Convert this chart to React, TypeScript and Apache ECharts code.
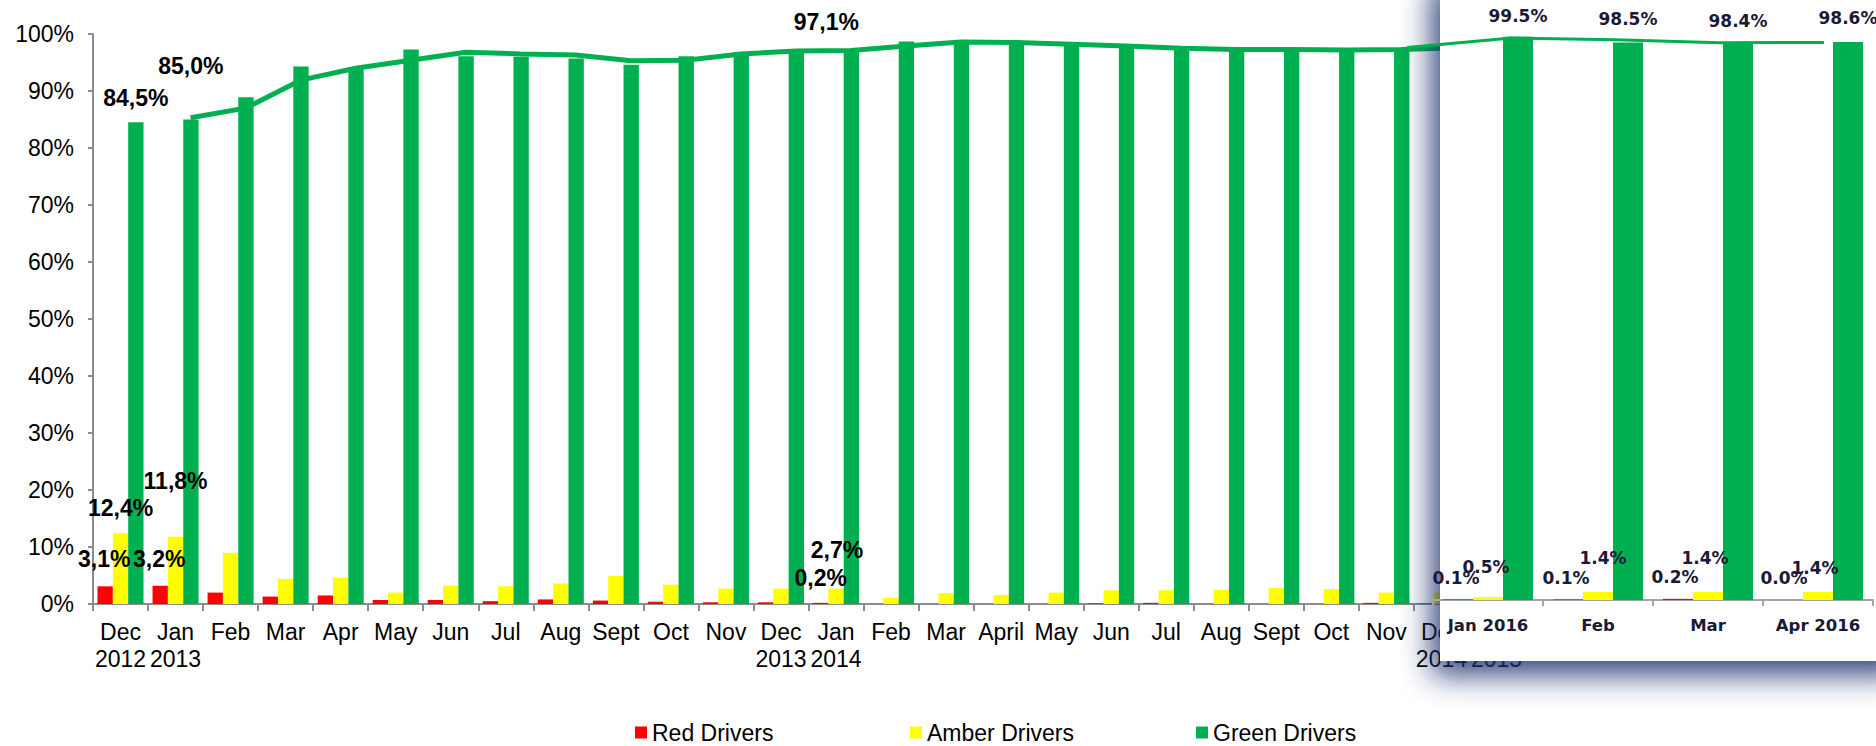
import React, { useEffect, useRef } from "react";
import * as echarts from "echarts";

// ---------- Main chart data (Dec 2012 – Jan 2015) ----------
const mainCategories = [
  "Dec\n2012", "Jan\n2013", "Feb", "Mar", "Apr", "May", "Jun", "Jul", "Aug", "Sept", "Oct", "Nov",
  "Dec\n2013", "Jan\n2014", "Feb", "Mar", "April", "May", "Jun", "Jul", "Aug", "Sept", "Oct", "Nov",
  "Dec\n2014", "Jan\n2015",
];
const mainRed = [3.1, 3.2, 2.0, 1.3, 1.5, 0.7, 0.7, 0.5, 0.8, 0.6, 0.4, 0.3, 0.3, 0.2, 0.0, 0.0, 0.0, 0.0, 0.1, 0.2, 0.0, 0.0, 0.0, 0.2, 0.1, 0.1];
const mainAmber = [12.4, 11.8, 9.0, 4.4, 4.6, 2.0, 3.2, 3.1, 3.6, 4.9, 3.4, 2.7, 2.7, 2.7, 1.1, 1.9, 1.6, 2.0, 2.4, 2.4, 2.5, 2.8, 2.6, 2.0, 2.0, 2.0];
const mainGreen = [84.5, 85.0, 88.9, 94.3, 94.0, 97.3, 96.1, 96.0, 95.7, 94.6, 96.1, 96.8, 97.2, 97.1, 98.7, 98.7, 98.3, 98.2, 97.6, 97.4, 97.3, 97.3, 97.2, 97.5, 97.6, 97.9];
const mainTrend = [null, 85.3, 87.0, 91.9, 94.0, 95.4, 96.8, 96.5, 96.3, 95.3, 95.4, 96.5, 97.0, 97.1, 97.9, 98.6, 98.5, 98.2, 97.9, 97.5, 97.3, 97.3, 97.2, 97.3, 97.6, 97.9];

// ---------- Inset data (Jan 2016 – Apr 2016) ----------
const insetCategories = ["Jan 2016", "Feb", "Mar", "Apr 2016"];
const insetRed = [0.1, 0.1, 0.2, 0.0];
const insetAmber = [0.5, 1.4, 1.4, 1.4];
const insetGreen = [99.5, 98.5, 98.4, 98.6];
const insetTrendCategories = ["Dec 2015", "Jan 2016", "Feb", "Mar", "Apr 2016"];
const insetTrend = [97.6, 99.3, 99.0, 98.45, 98.5];

// ---------- Which points carry labels, and label placement ----------
const mainGreenLabelAt = [0, 1, 13];
const mainGreenLabelLift = [13, 42, 17];
const mainGreenLabelShift = [0, 0, -25];
const mainAmberLabelAt = [0, 1, 13];
const mainAmberLabelLift = [14, 44, 27];
const mainAmberLabelShift = [0, 0, 1];
const mainRedLabelAt = [0, 1, 13];
const mainRedLabelLift = [16, 15, 13];
const mainRedLabelShift = [-1, -1, 0];

const insetGreenLift = [12, 15, 14, 15];
const insetAmberLift = [22, 26, 26, 16];
const insetAmberShift = [-2, 5, -3, -3];
const insetRedLift = [13, 13, 13, 14];
const insetRedShift = [-2, -2, -3, -4];

const RED = "#ff0000";
const AMBER = "#ffff00";
const GREEN = "#00b050";
const ARIAL = "'Liberation Sans', Arial, sans-serif";
const VERDANA = "'DejaVu Sans', Verdana, sans-serif";

const commaFmt = (p: any) => `${Number(p.value).toFixed(1).replace(".", ",")}%`;
const dotFmt = (p: any) => `${Number(p.value).toFixed(1)}%`;

const mainLabelStyle = { fontFamily: ARIAL, fontWeight: "bold", fontSize: 23, color: "#000" };
const insetLabelStyle = { fontFamily: VERDANA, fontWeight: "bold", fontSize: 17, color: "#1a1a36" };

function labelled(values: number[], at: number[], lift: number[], shift: number[], fmt: any, style: any) {
  return values.map((v, i) => {
    const k = at.indexOf(i);
    if (k < 0) return v;
    return {
      value: v,
      label: { show: true, position: "top", distance: lift[k], offset: [shift[k], 0], formatter: fmt, ...style },
    };
  });
}

function allLabelled(values: number[], lift: number[], shift: number[] | null, fmt: any, style: any) {
  return values.map((v, i) => ({
    value: v,
    label: { show: true, position: "top", distance: lift[i], offset: [shift ? shift[i] : 0, 0], formatter: fmt, ...style },
  }));
}

export default function App() {
  const ref = useRef<HTMLDivElement>(null);

  useEffect(() => {
    if (!ref.current) return;
    const chart = echarts.init(ref.current, undefined, { renderer: "svg" });

    const axisGray = "#8c8c8c";
    const mainLeft = 93;
    const mainWidth = 1431;
    const top = 34;
    const mainHeight = 570;

    const option: any = {
      animation: false,
      backgroundColor: "#ffffff",
      grid: [
        { left: mainLeft, top, width: mainWidth, height: mainHeight },
        { left: mainLeft + 15, top, width: mainWidth, height: mainHeight },
        { left: 1433, top, width: 440, height: 566 },
        { left: 1355, top, width: 550, height: 566 },
      ],
      xAxis: [
        {
          type: "category",
          gridIndex: 0,
          data: mainCategories,
          axisLine: { lineStyle: { color: axisGray, width: 2 } },
          axisTick: { show: true, length: 7, lineStyle: { color: axisGray, width: 2 } },
          axisLabel: { interval: 0, fontFamily: ARIAL, fontSize: 23, lineHeight: 27, color: "#000", margin: 14 },
        },
        { type: "category", gridIndex: 1, data: mainCategories, show: false },
        {
          type: "category",
          gridIndex: 2,
          data: insetCategories,
          z: 10,
          axisLine: { lineStyle: { color: "#a6a6a6", width: 2 } },
          axisTick: { show: true, length: 6, lineStyle: { color: "#a6a6a6", width: 2 } },
          axisLabel: { interval: 0, fontFamily: VERDANA, fontWeight: "bold", fontSize: 16.5, color: "#1a1a36", margin: 17 },
        },
        { type: "category", gridIndex: 3, data: insetTrendCategories, show: false },
      ],
      yAxis: [
        {
          type: "value",
          gridIndex: 0,
          min: 0,
          max: 100,
          interval: 10,
          axisLine: { show: true, lineStyle: { color: axisGray, width: 2 } },
          axisTick: { show: true, length: 5, lineStyle: { color: axisGray, width: 2 } },
          splitLine: { show: false },
          axisLabel: { formatter: "{value}%", fontFamily: ARIAL, fontSize: 23, color: "#000", margin: 19 },
        },
        { type: "value", gridIndex: 1, min: 0, max: 100, show: false, splitLine: { show: false } },
        { type: "value", gridIndex: 2, min: 0, max: 100, show: false, splitLine: { show: false } },
        { type: "value", gridIndex: 3, min: 0, max: 100, show: false, splitLine: { show: false } },
      ],
      legend: [
        { data: ["Red Drivers"], left: 635, top: 721 },
        { data: ["Amber Drivers"], left: 910, top: 721 },
        { data: ["Green Drivers"], left: 1196, top: 721 },
      ].map((l) => ({
        ...l,
        padding: 0,
        icon: "rect",
        itemWidth: 12,
        itemHeight: 12,
        selectedMode: false,
        textStyle: { fontFamily: ARIAL, fontSize: 23, lineHeight: 23, color: "#000" },
      })),
      graphic: {
        elements: [
          {
            type: "rect",
            z: 5,
            silent: true,
            shape: { x: 1440, y: -30, width: 470, height: 691 },
            style: {
              fill: "#ffffff",
              shadowBlur: 30,
              shadowOffsetX: -8,
              shadowOffsetY: 14,
              shadowColor: "rgba(30,50,110,0.9)",
            },
          },
        ],
      },
      series: [
        // ----- main chart -----
        {
          name: "Red Drivers",
          type: "bar",
          xAxisIndex: 0,
          yAxisIndex: 0,
          barGap: "0%",
          barCategoryGap: "16.4%",
          itemStyle: { color: RED },
          z: 2,
          data: labelled(mainRed, mainRedLabelAt, mainRedLabelLift, mainRedLabelShift, commaFmt, mainLabelStyle),
        },
        {
          name: "Amber Drivers",
          type: "bar",
          xAxisIndex: 0,
          yAxisIndex: 0,
          barGap: "0%",
          barCategoryGap: "16.4%",
          itemStyle: { color: AMBER },
          z: 2,
          data: labelled(mainAmber, mainAmberLabelAt, mainAmberLabelLift, mainAmberLabelShift, commaFmt, mainLabelStyle),
        },
        {
          name: "Green Drivers",
          type: "bar",
          xAxisIndex: 0,
          yAxisIndex: 0,
          barGap: "0%",
          barCategoryGap: "16.4%",
          itemStyle: { color: GREEN },
          z: 2,
          data: labelled(mainGreen, mainGreenLabelAt, mainGreenLabelLift, mainGreenLabelShift, commaFmt, mainLabelStyle),
        },
        {
          name: "Green trend",
          type: "line",
          xAxisIndex: 1,
          yAxisIndex: 1,
          showSymbol: false,
          symbol: "none",
          lineStyle: { color: GREEN, width: 5 },
          itemStyle: { color: GREEN },
          z: 3,
          data: mainTrend,
        },
        // ----- inset -----
        {
          name: "Red Drivers",
          type: "bar",
          xAxisIndex: 2,
          yAxisIndex: 2,
          barGap: "0%",
          barCategoryGap: "18.2%",
          itemStyle: { color: RED },
          z: 10,
          data: allLabelled(insetRed, insetRedLift, insetRedShift, dotFmt, insetLabelStyle),
        },
        {
          name: "Amber Drivers",
          type: "bar",
          xAxisIndex: 2,
          yAxisIndex: 2,
          barGap: "0%",
          barCategoryGap: "18.2%",
          itemStyle: { color: AMBER },
          z: 10,
          data: allLabelled(insetAmber, insetAmberLift, insetAmberShift, dotFmt, insetLabelStyle),
        },
        {
          name: "Green Drivers",
          type: "bar",
          xAxisIndex: 2,
          yAxisIndex: 2,
          barGap: "0%",
          barCategoryGap: "18.2%",
          itemStyle: { color: GREEN },
          z: 10,
          data: allLabelled(insetGreen, insetGreenLift, null, dotFmt, insetLabelStyle),
        },
        {
          name: "Inset trend",
          type: "line",
          xAxisIndex: 3,
          yAxisIndex: 3,
          showSymbol: false,
          symbol: "none",
          clip: false,
          lineStyle: { color: GREEN, width: 3 },
          itemStyle: { color: GREEN },
          z: 11,
          data: insetTrend,
        },
      ],
    };

    chart.setOption(option);
    return () => chart.dispose();
  }, []);

  return (
    <div
      ref={ref}
      style={{ position: "absolute", left: 0, top: 0, width: 1876, height: 746, background: "#fff" }}
    />
  );
}
